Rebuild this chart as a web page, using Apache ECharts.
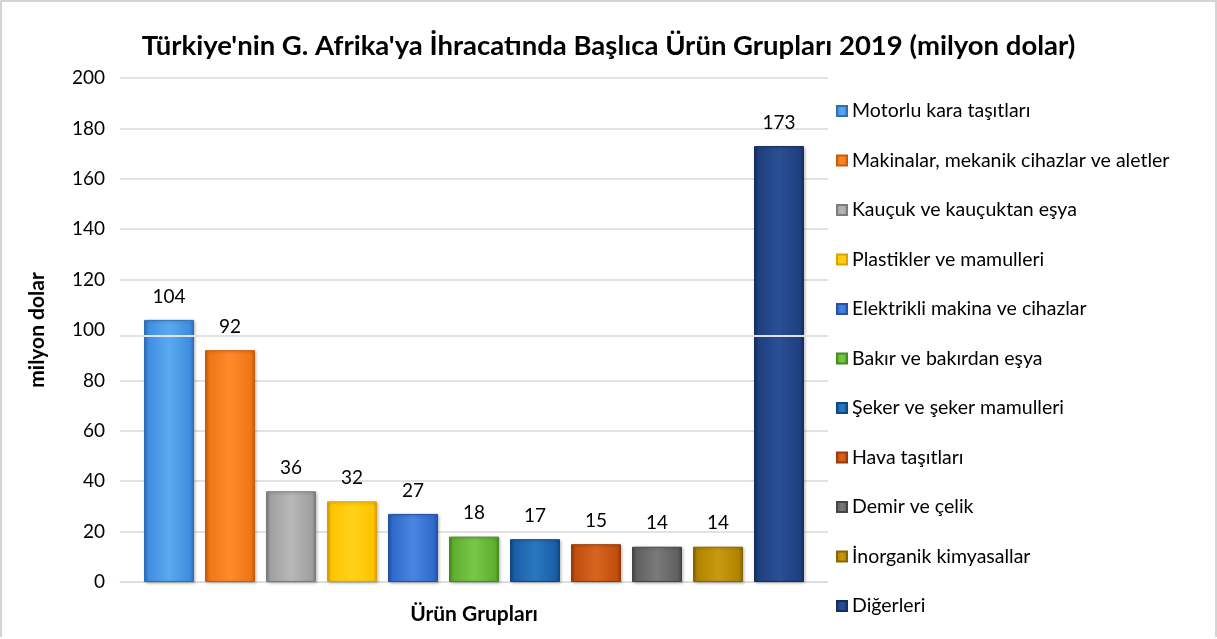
<!DOCTYPE html>
<html>
<head>
<meta charset="utf-8">
<script src="https://cdn.jsdelivr.net/npm/echarts@6/dist/echarts.min.js"></script>
<style>
  html, body { margin: 0; padding: 0; background: #fff; }
  #chart { width: 1213px; height: 635px; border: 2px solid #d4d4d4; border-bottom: none; }
</style>
</head>
<body>
<div id="chart"></div>
<script>
var groups = ['Motorlu kara taşıtları', 'Makinalar, mekanik cihazlar ve aletler', 'Kauçuk ve kauçuktan eşya',
  'Plastikler ve mamulleri', 'Elektrikli makina ve cihazlar', 'Bakır ve bakırdan eşya',
  'Şeker ve şeker mamulleri', 'Hava taşıtları', 'Demir ve çelik', 'İnorganik kimyasallar', 'Diğerleri'];
var values = [104, 92, 36, 32, 27, 18, 17, 15, 14, 14, 173];
var yTicks = [0, 20, 40, 60, 80, 100, 120, 140, 160, 180, 200];

// renk paleti: [açık, ana, koyu]
var palette = [
  ['#5aaaf0', '#3f8ee0', '#2f6fb8'],
  ['#ff8a2a', '#f07515', '#c95c0c'],
  ['#b8b8b8', '#a0a0a0', '#7c7c7c'],
  ['#ffd21a', '#ffc400', '#dba300'],
  ['#4a85e0', '#2f6acc', '#2453a6'],
  ['#78c848', '#5fae30', '#468a22'],
  ['#2a78c0', '#1a5ea6', '#124680'],
  ['#d86420', '#c24e0e', '#97390a'],
  ['#7a7a7a', '#606060', '#454545'],
  ['#c89a10', '#b08400', '#876500'],
  ['#2a4f94', '#1f3f7e', '#172f60']
];

var font = 'Lato, "Open Sans", sans-serif';

var series = groups.map(function (name, i) {
  var c = palette[i];
  var s = {
    name: name,
    type: 'bar',
    data: [values[i]],
    barWidth: 50,
    barGap: '22%',
    itemStyle: {
      color: new echarts.graphic.LinearGradient(0, 0, 1, 0, [
        { offset: 0, color: c[2] },
        { offset: 0.08, color: c[1] },
        { offset: 0.5, color: c[0] },
        { offset: 0.92, color: c[1] },
        { offset: 1, color: c[2] }
      ]),
      borderColor: c[2],
      borderWidth: 1,
      shadowColor: 'rgba(0,0,0,0.25)',
      shadowBlur: 3,
      shadowOffsetX: 1,
      shadowOffsetY: 1
    },
    label: {
      show: true,
      position: 'top',
      distance: 14,
      color: '#000',
      fontFamily: font,
      fontSize: 19
    }
  };
  if (i === groups.length - 1) {
    s.markLine = {
      silent: true,
      symbol: 'none',
      label: { show: false },
      lineStyle: { color: '#e2e2e2', width: 2, type: 'solid' },
      data: [{ yAxis: 97.7 }]
    };
  }
  return s;
});

var gridColors = yTicks.map(function (v) { return v === 100 ? 'rgba(0,0,0,0)' : '#d9d9d9'; });

var chart = echarts.init(document.getElementById('chart'));
chart.setOption({
  backgroundColor: '#fff',
  animation: false,
  title: {
    text: "Türkiye'nin G. Afrika'ya İhracatında Başlıca Ürün Grupları 2019 (milyon dolar)",
    left: 'center',
    top: 25,
    textStyle: { fontFamily: font, fontSize: 27.5, fontWeight: 'bold', color: '#000' }
  },
  legend: {
    orient: 'vertical',
    left: 829,
    top: 94,
    itemWidth: 10,
    itemHeight: 10,
    itemGap: 29.5,
    icon: 'rect',
    textStyle: { fontFamily: font, fontSize: 19.5, color: '#000', lineHeight: 20 }
  },
  grid: { left: 118, right: 387, top: 76, bottom: 55 },
  xAxis: {
    type: 'category',
    data: [''],
    name: 'Ürün Grupları',
    nameLocation: 'middle',
    nameGap: 22,
    nameTextStyle: { fontFamily: font, fontSize: 21, fontWeight: 'bold', color: '#000' },
    axisLine: { lineStyle: { color: '#d9d9d9' } },
    axisTick: { show: false },
    axisLabel: { show: false }
  },
  yAxis: {
    type: 'value',
    min: 0,
    max: 200,
    interval: 20,
    name: 'milyon dolar',
    nameLocation: 'middle',
    nameGap: 72,
    nameRotate: 90,
    nameTextStyle: { fontFamily: font, fontSize: 21, fontWeight: 'bold', color: '#000' },
    axisLine: { show: false },
    axisTick: { show: false },
    axisLabel: { fontFamily: font, fontSize: 19, color: '#000', margin: 15 },
    splitLine: { lineStyle: { color: gridColors, width: 1.5 } }
  },
  series: series
});
</script>
</body>
</html>
